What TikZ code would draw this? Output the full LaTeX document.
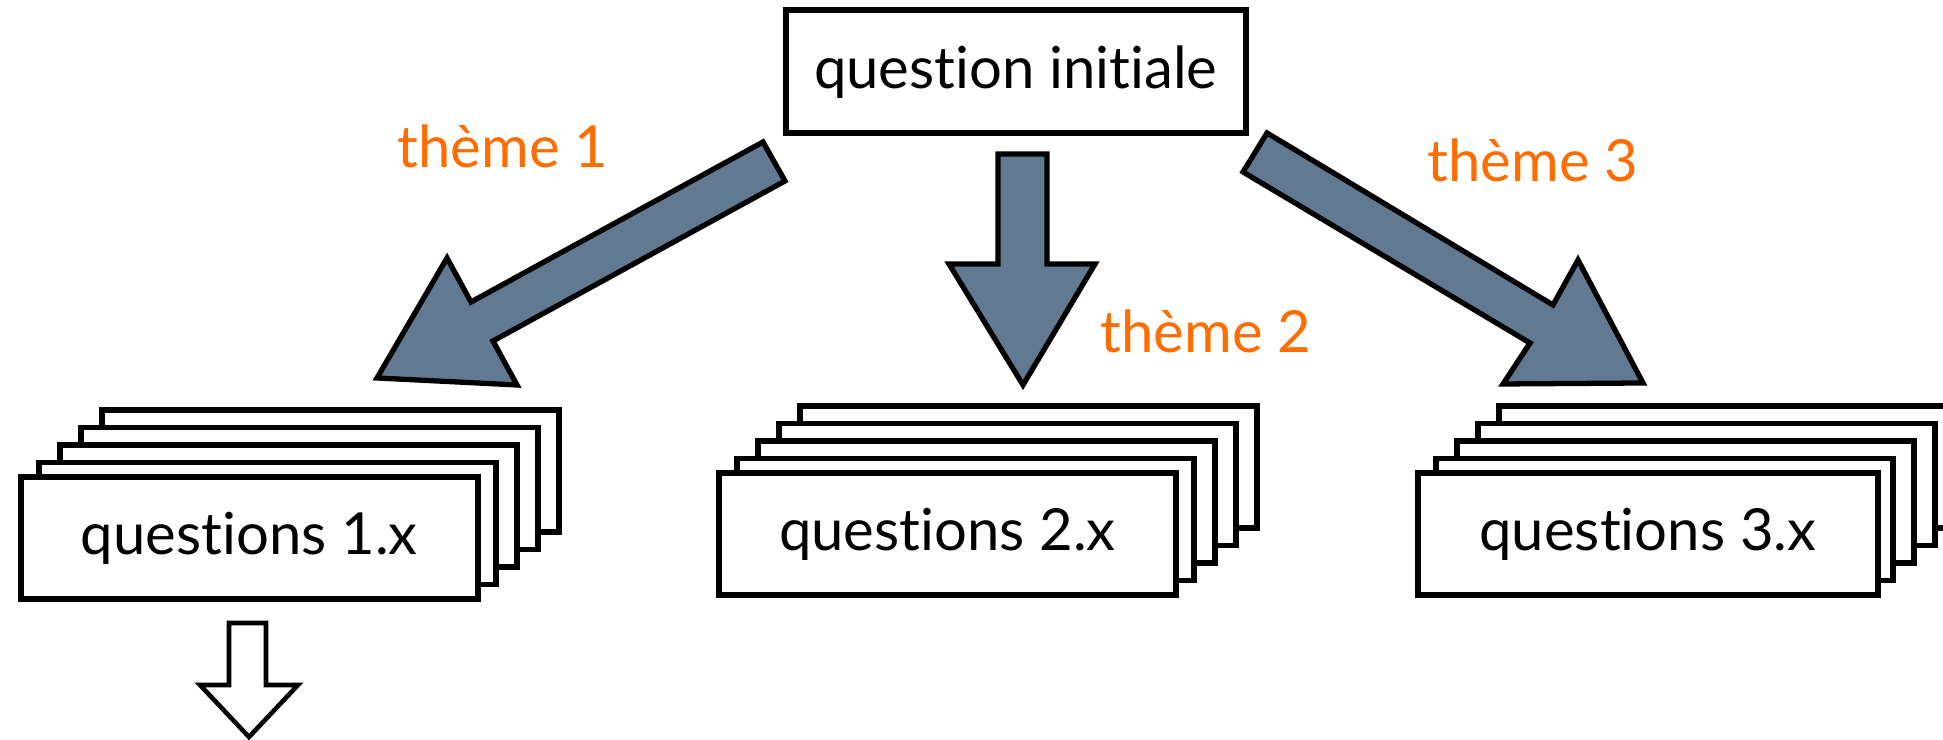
\documentclass[tikz,border=0pt]{standalone}
\usepackage{fontspec}
\setmainfont{Lato}[Ligatures={NoCommon,NoRare}]
\definecolor{themeorange}{RGB}{255,108,0}
\definecolor{arrowslate}{RGB}{98,121,146}
\tikzset{
  qbox/.style={draw=black, fill=white, line width=1.6pt, minimum width=4.57cm, minimum height=1.22cm, inner sep=0pt, font=\fontsize{16.5}{20}\selectfont},
  backbox/.style={draw=black, fill=white, line width=1.6pt},
  themelabel/.style={text=themeorange, anchor=base west, inner sep=0pt, font=\fontsize{16.5}{20}\selectfont},
  bigarrow/.style={draw=black, fill=arrowslate, line width=1.5pt, line join=miter},
  nextarrow/.style={draw=black, fill=white, line width=1.3pt, line join=miter},
}

\begin{document}
\begin{tikzpicture}
\useasboundingbox (0,0) rectangle (19.43,7.40);
\foreach \x/\y in {0.18/1.38, 7.16/1.42, 14.15/1.42}
  \foreach \i in {4,3,2,1}
    \draw[backbox] (\x+\i*0.21, \y+\i*0.175) rectangle ++(4.57,1.22);
\node[qbox, anchor=south west] (q1) at (0.18,1.38) {questions 1.x};
\node[qbox, anchor=south west] (q2) at (7.16,1.42) {questions 2.x};
\node[qbox, anchor=south west, minimum width=4.60cm] (q3) at (14.15,1.42) {questions 3.x};
\node[qbox, anchor=south west, minimum width=4.60cm, minimum height=1.23cm] (q0) at (7.83,6.04) {question initiale};
\draw[bigarrow] (7.63,5.98) -- (7.85,5.59) -- (4.93,3.99) -- (5.17,3.55) -- (3.77,3.62) -- (4.47,4.82) -- (4.71,4.38) -- cycle;
\draw[bigarrow] (9.98,5.86) -- (10.47,5.86) -- (10.47,4.76) -- (10.95,4.76) -- (10.23,3.55) -- (9.49,4.76) -- (9.98,4.76) -- cycle;
\draw[bigarrow] (12.67,6.07) -- (15.53,4.35) -- (15.78,4.80) -- (16.43,3.57) -- (15.03,3.56) -- (15.30,3.97) -- (12.43,5.68) -- cycle;
\draw[nextarrow] (2.29,1.17) -- (2.66,1.17) -- (2.66,0.55) -- (2.98,0.55) -- (2.49,0.03) -- (2.00,0.55) -- (2.29,0.55) -- cycle;
\node[themelabel] (t1) at (3.97,5.72) {thème 1};
\node[themelabel] (t2) at (11.00,3.87) {thème 2};
\node[themelabel] (t3) at (14.27,5.58) {thème 3};
\end{tikzpicture}
\end{document}
